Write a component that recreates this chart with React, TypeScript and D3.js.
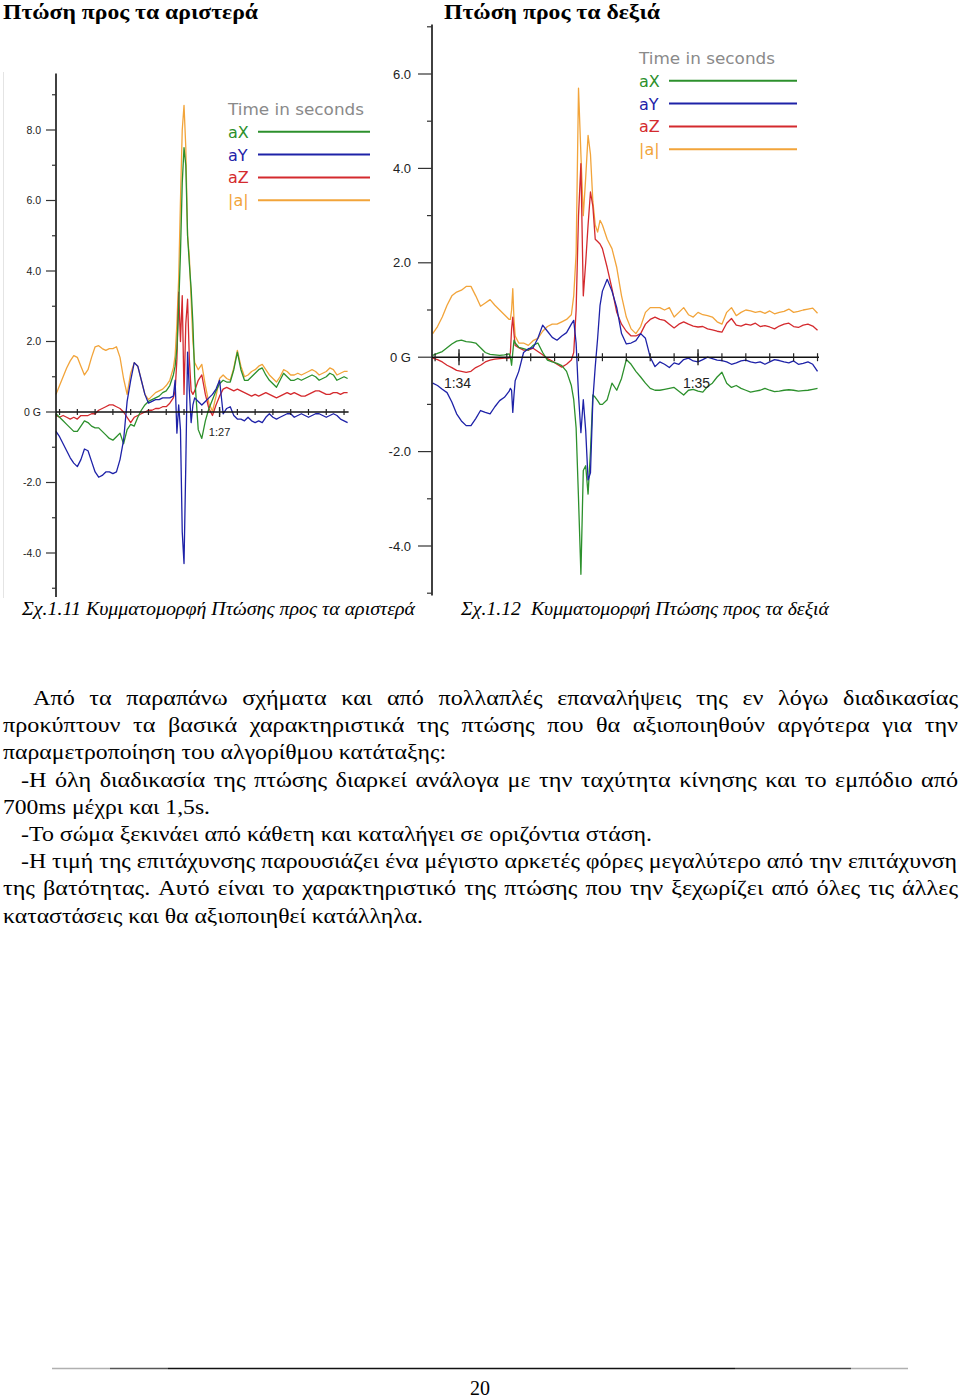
import React from 'react';
import * as d3 from 'd3';

// ---------------- DATA ----------------
// Left chart (fall to the left) – sample times in seconds (clock 1:26.08 … 1:27.72)
const leftTimes = [
  86.08, 86.10, 86.12, 86.14, 86.16, 86.18, 86.20, 86.22, 86.24, 86.26, 86.28, 86.30, 86.32, 86.34, 86.36, 86.38, 86.40,
  86.42, 86.44, 86.46, 86.48, 86.50, 86.52, 86.54, 86.56, 86.58, 86.60, 86.62, 86.64, 86.66, 86.68, 86.70, 86.72, 86.74,
  86.75, 86.76, 86.77, 86.78, 86.79, 86.80, 86.81, 86.82, 86.83, 86.84, 86.85, 86.86,
  86.88, 86.90, 86.92, 86.94, 86.96, 86.98, 87.00, 87.02, 87.04, 87.06, 87.08, 87.10, 87.12, 87.14, 87.16, 87.18, 87.20,
  87.22, 87.24, 87.26, 87.28, 87.30, 87.32, 87.34, 87.36, 87.38, 87.40, 87.42, 87.44, 87.46, 87.48, 87.50, 87.52, 87.54,
  87.56, 87.58, 87.60, 87.62, 87.64, 87.66, 87.68, 87.70, 87.72,
];
const leftAX = [
  -0.05, -0.15, -0.25, -0.35, -0.45, -0.55, -0.55, -0.4, -0.25, -0.3, -0.4, -0.45, -0.45, -0.55, -0.65, -0.75, -0.8,
  -0.7, -0.6, -0.9, -0.5, -0.35, -0.4, -0.15, 0.05, 0.2, 0.3, 0.35, 0.4, 0.45, 0.55, 0.6, 0.75, 1.05,
  1.3, 1.8, 3.0, 4.5, 6.5, 7.5, 7.0, 5.0, 4.2, 3.5, 2.5, 1.0,
  -0.5, -0.75, -0.25, 0.1, 0.35, 0.6, 0.8, 0.9, 0.85, 0.85, 1.2, 1.7, 1.2, 0.9, 0.9, 1.0, 1.1,
  1.2, 1.25, 1.05, 0.9, 0.8, 0.7, 0.9, 1.1, 1.0, 0.9, 0.9, 0.95, 0.9, 0.95, 1.0, 1.05, 1.0,
  0.9, 0.95, 1.0, 1.1, 1.05, 0.9, 0.95, 1.0, 0.95,
];
const leftAY = [
  -0.55, -0.7, -0.9, -1.1, -1.3, -1.45, -1.55, -1.35, -1.05, -1.1, -1.4, -1.7, -1.85, -1.8, -1.7, -1.7, -1.75,
  -1.7, -1.35, -0.8, 0.3, 0.9, 1.4, 1.3, 0.9, 0.5, 0.25, 0.3, 0.35, 0.35, 0.4, 0.4, 0.4, 0.45,
  0.9, -0.6, 0.2, -0.5, -3.4, -4.3, -1.5, 1.7, 0.6, -0.3, 0.2, 0.4,
  0.3, 0.2, 0.3, 0.4, 0.5, 0.65, 0.9, -0.05, 0.1, 0.15, -0.1, -0.2, -0.2, -0.25, -0.15, -0.25, -0.3,
  -0.25, -0.3, -0.15, -0.05, -0.15, -0.2, -0.15, -0.1, -0.05, -0.05, -0.15, -0.1, -0.05, -0.1, -0.15, -0.1, -0.05,
  -0.05, -0.1, -0.15, -0.1, -0.05, -0.1, -0.2, -0.25, -0.3,
];
const leftAZ = [
  -0.1, -0.15, -0.1, -0.15, -0.2, -0.15, -0.2, -0.1, -0.1, -0.1, -0.05, -0.05, 0.05, 0.1, 0.15, 0.2, 0.2,
  0.15, 0.1, 0.0, -0.15, -0.3, -0.15, -0.1, -0.05, 0.0, 0.05, 0.05, 0.1, 0.1, 0.15, 0.15, 0.25, 0.4,
  0.6, 1.5, 3.4, 2.0, 3.3, 0.5, 2.5, 3.2, 1.5, 0.6, 0.5, 0.6,
  0.9, 1.05, 0.5, 0.1, -0.1, 0.2, 0.45, 0.65, 0.7, 0.65, 0.6, 0.65, 0.6, 0.55, 0.5, 0.45, 0.5,
  0.45, 0.5, 0.55, 0.5, 0.45, 0.4, 0.45, 0.5, 0.55, 0.5, 0.55, 0.5, 0.45, 0.45, 0.5, 0.55, 0.6,
  0.6, 0.55, 0.5, 0.5, 0.55, 0.55, 0.5, 0.55, 0.55,
];
const leftAbs = [
  0.5, 0.75, 1.0, 1.25, 1.45, 1.6, 1.55, 1.3, 1.05, 1.2, 1.55, 1.85, 1.88, 1.8, 1.75, 1.8, 1.8,
  1.85, 1.55, 0.95, 0.5, 1.1, 1.4, 1.3, 0.9, 0.5, 0.35, 0.45, 0.55, 0.6, 0.65, 0.75, 0.9, 1.25,
  1.6, 2.5, 3.8, 6.0, 8.0, 8.7, 7.5, 5.0, 4.4, 3.2, 2.0, 1.4,
  1.2, 1.35, 0.75, 0.25, 0.02, 0.45, 0.95, 1.05, 0.95, 0.9, 1.25, 1.75, 1.3, 1.0, 1.05, 1.15, 1.2,
  1.3, 1.35, 1.2, 1.05, 0.95, 0.85, 1.0, 1.2, 1.15, 1.05, 1.05, 1.1, 1.05, 1.1, 1.15, 1.2, 1.15,
  1.05, 1.1, 1.15, 1.25, 1.2, 1.05, 1.1, 1.15, 1.15,
];

// Right chart (fall to the right) – sample times in seconds (clock 1:33.89 … 1:35.50)
const rightTimes = [
  93.89, 93.91, 93.93, 93.95, 93.97, 93.99, 94.01, 94.03, 94.05, 94.07, 94.09, 94.11, 94.13, 94.15, 94.17, 94.19, 94.21,
  94.215, 94.22, 94.225, 94.23, 94.235,
  94.25, 94.27, 94.29, 94.31, 94.33, 94.35, 94.37, 94.39, 94.41, 94.43, 94.45, 94.47,
  94.48, 94.49, 94.50, 94.51, 94.52, 94.53, 94.54, 94.55, 94.56, 94.57, 94.58, 94.59, 94.60,
  94.62, 94.64, 94.66, 94.68, 94.70, 94.72, 94.74, 94.76, 94.78, 94.80, 94.82, 94.84, 94.86, 94.88, 94.90, 94.92, 94.94,
  94.96, 94.98, 95.00, 95.02, 95.04, 95.06, 95.08, 95.10, 95.12, 95.14, 95.16, 95.18, 95.20, 95.22, 95.24, 95.26, 95.28,
  95.30, 95.32, 95.34, 95.36, 95.38, 95.40, 95.42, 95.44, 95.46, 95.48, 95.50,
];
const rightAX = [
  0.04, 0.08, 0.12, 0.2, 0.28, 0.34, 0.36, 0.33, 0.32, 0.3, 0.2, 0.1, 0.06, 0.05, 0.04, 0.05, 0.07,
  0.0, -0.17, 0.1, 0.36, 0.3,
  0.21, 0.18, 0.15, 0.25, 0.3, 0.1, -0.06, -0.1, -0.13, -0.18, -0.3, -0.6,
  -0.9, -1.5, -3.0, -4.6, -2.4, -2.3, -2.9, -2.0, -0.8, -0.85, -0.92, -1.0, -1.0,
  -0.9, -0.55, -0.7, -0.45, -0.05, -0.15, -0.3, -0.42, -0.55, -0.66, -0.7, -0.7, -0.68, -0.66, -0.64, -0.72, -0.8,
  -0.7, -0.68, -0.72, -0.74, -0.62, -0.55, -0.42, -0.32, -0.55, -0.64, -0.6, -0.66, -0.7, -0.74, -0.72, -0.7, -0.66,
  -0.7, -0.73, -0.72, -0.7, -0.69, -0.7, -0.72, -0.71, -0.7, -0.68, -0.66,
];
const rightAY = [
  -0.55, -0.6, -0.68, -0.75, -0.95, -1.2, -1.35, -1.45, -1.45, -1.3, -1.13, -1.17, -1.2, -1.05, -0.92, -0.85, -0.72,
  -0.66, -0.7, -1.17, -0.8, -0.5,
  -0.3, 0.1, 0.18, 0.2, 0.4, 0.68, 0.55, 0.42, 0.36, 0.45, 0.52, 0.7,
  0.78, 0.3, -0.8, -1.6, -0.9, -1.55, -2.6, -2.45, -0.9, -0.2, 0.4, 1.1, 1.4,
  1.65, 1.4, 1.05, 0.5, 0.28, 0.3, 0.35, 0.5, 0.4, 0.0, -0.2, -0.1, -0.15, -0.22, -0.12, -0.15, -0.05,
  -0.02, -0.08, -0.1, -0.05, 0.0, -0.03, -0.06, -0.07, -0.1, -0.15, -0.12, -0.08, -0.06, -0.1, -0.12, -0.1, -0.15,
  -0.1, -0.05, -0.07, -0.1, -0.12, -0.08, -0.15, -0.13, -0.1, -0.15, -0.3,
];
const rightAZ = [
  -0.02, -0.05, -0.1, -0.17, -0.22, -0.28, -0.3, -0.32, -0.3, -0.22, -0.17, -0.1, -0.06, -0.04, -0.03, -0.02, -0.02,
  0.1, 0.6, 0.85, 0.5, 0.25,
  0.2, 0.15, 0.15, 0.19, 0.12, 0.05, -0.03, -0.08, -0.15, -0.21, -0.15, -0.06,
  0.1, 1.0, 3.0, 4.1, 1.3, 2.0, 2.8, 3.5, 3.2, 2.5, 2.45, 2.4, 2.3,
  1.9, 1.45, 0.95, 0.7, 0.55, 0.45, 0.45, 0.5, 0.7, 0.8, 0.85, 0.8, 0.78, 0.7, 0.62, 0.7, 0.75,
  0.7, 0.66, 0.64, 0.65, 0.6, 0.58, 0.55, 0.53, 0.72, 0.82, 0.68, 0.66, 0.7, 0.68, 0.72, 0.65, 0.67,
  0.64, 0.6, 0.66, 0.7, 0.72, 0.65, 0.63, 0.68, 0.7, 0.66, 0.57,
];
const rightAbs = [
  0.5, 0.65, 0.85, 1.1, 1.3, 1.38, 1.42, 1.5, 1.5, 1.3, 1.08, 1.15, 1.22, 1.1, 1.0, 0.9, 0.8,
  0.8, 1.0, 1.45, 0.8, 0.45,
  0.3, 0.3, 0.25, 0.35, 0.4, 0.55, 0.65, 0.7, 0.7, 0.75, 0.8, 0.9,
  1.3, 2.2, 5.7, 4.3, 3.0, 3.8, 4.7, 4.3, 3.3, 2.8, 2.65, 2.9, 2.8,
  2.5, 2.3, 1.9, 1.3, 0.85, 0.6, 0.5, 0.65, 0.95, 1.05, 1.05, 1.05, 1.0, 1.05, 0.85, 0.95, 1.05,
  0.9, 0.85, 0.95, 0.9, 0.88, 0.85, 0.75, 0.7, 0.95, 1.05, 0.88, 0.95, 1.0, 0.98, 0.95, 0.97, 0.93,
  0.98, 0.92, 0.95, 0.97, 1.02, 0.95, 0.97, 1.0, 1.02, 1.04, 0.93,
];

const seriesNames = ['aX', 'aY', 'aZ', '|a|'];
const seriesColors = ['#2c902c', '#1e22a8', '#d42a2e', '#f2a43a'];
const legendTitle = 'Time in seconds';

const yTickValues = [-4, -2, 0, 2, 4, 6, 8];
const yTickLabels = ['-4.0', '-2.0', '0 G', '2.0', '4.0', '6.0', '8.0'];
const leftMajorTime = [87];
const leftMajorLabels = ['1:27'];
const rightMajorTime = [94, 95];
const rightMajorLabels = ['1:34', '1:35'];

const headings = ['Πτώση προς τα αριστερά', 'Πτώση προς τα δεξιά'];
const captions = ['Σχ.1.11 Κυμματομορφή Πτώσης προς τα αριστερά', 'Σχ.1.12  Κυμματομορφή Πτώσης προς τα δεξιά'];
const paragraphLines = [
  'Από τα παραπάνω σχήματα και από πολλαπλές επαναλήψεις της εν λόγω διαδικασίας',
  'προκύπτουν τα βασικά χαρακτηριστικά της πτώσης που θα αξιοποιηθούν αργότερα για την',
  'παραμετροποίηση του αλγορίθμου κατάταξης:',
  '-Η όλη διαδικασία της πτώσης διαρκεί ανάλογα με την ταχύτητα κίνησης και το εμπόδιο από',
  '700ms μέχρι και 1,5s.',
  '-Το σώμα ξεκινάει από κάθετη και καταλήγει σε οριζόντια στάση.',
  '-Η τιμή της επιτάχυνσης παρουσιάζει ένα μέγιστο αρκετές φόρες μεγαλύτερο από την επιτάχυνση',
  'της βατότητας. Αυτό είναι το χαρακτηριστικό της πτώσης που την ξεχωρίζει από όλες τις άλλες',
  'καταστάσεις και θα αξιοποιηθεί κατάλληλα.',
];
const pageNumber = '20';

// ---------------- LAYOUT ----------------
const paraLayout = [
  { x0: 33, x1: 958, justify: true },
  { x0: 3, x1: 958, justify: true },
  { x0: 3, x1: 446, justify: false },
  { x0: 21, x1: 958, justify: true },
  { x0: 3, x1: 210, justify: false },
  { x0: 21, x1: 652, justify: false },
  { x0: 21, x1: 957, justify: true },
  { x0: 3, x1: 958, justify: true },
  { x0: 3, x1: 423, justify: false },
];

const SERIF = '"Liberation Serif", "Times New Roman", serif';
const SANS = '"Liberation Sans", Arial, sans-serif';
const LEGEND_FONT = '"DejaVu Sans", Verdana, sans-serif';

let measureCtx: CanvasRenderingContext2D | null = null;
function measure(text: string, font: string): number {
  if (!measureCtx) measureCtx = document.createElement('canvas').getContext('2d');
  if (!measureCtx) return text.length * 9;
  measureCtx.font = font;
  return measureCtx.measureText(text).width;
}

type ChartCfg = {
  times: number[];
  values: number[][];
  xDomain: [number, number];
  xRange: [number, number];
  yRange: [number, number];
  axisExtent: [number, number];
  minorY: number[];
  yTickMax: number;
  majorT: number[];
  majorLabels: string[];
  minorT: number[];
  tickLen: number;
  majorTickLen: number;
  yTickX0: number;
  yLabelX: number;
  yLabelSize: number;
  minorYLen: number;
  xLabelSize: number;
  xLabelDy: number;
  xLabelDx: number;
  legendX: number;
  legendY: number;
  legendLineX: [number, number];
  legendStep: number;
};

function Chart({ cfg }: { cfg: ChartCfg }) {
  const x = d3.scaleLinear().domain(cfg.xDomain).range(cfg.xRange);
  const y = d3.scaleLinear().domain([-4, 8]).range(cfg.yRange);
  const axisX = cfg.xRange[0];
  const y0 = y(0);
  const drawOrder = [3, 2, 0, 1];
  return (
    <g>
      {drawOrder.map((si) => {
        const line = d3
          .line<number>()
          .x((_, i) => x(cfg.times[i]))
          .y((d) => y(d));
        return (
          <path
            key={si}
            d={line(cfg.values[si]) || ''}
            fill="none"
            stroke={seriesColors[si]}
            strokeWidth={1.3}
            strokeLinejoin="round"
          />
        );
      })}
      <line x1={axisX} x2={axisX} y1={y(cfg.axisExtent[0])} y2={y(cfg.axisExtent[1])} stroke="#111" strokeWidth={1.6} />
      {yTickValues
        .filter((v) => v <= cfg.yTickMax)
        .map((v) => (
          <g key={v}>
            <line x1={cfg.yTickX0} x2={axisX} y1={y(v)} y2={y(v)} stroke="#333" strokeWidth={1.2} />
            <text
              x={cfg.yLabelX}
              y={y(v)}
              dy="0.35em"
              textAnchor="end"
              fontFamily={SANS}
              fontSize={cfg.yLabelSize}
              fill="#222"
            >
              {yTickLabels[yTickValues.indexOf(v)]}
            </text>
          </g>
        ))}
      {cfg.minorY.map((v) => (
        <line key={'m' + v} x1={axisX - cfg.minorYLen} x2={axisX} y1={y(v)} y2={y(v)} stroke="#333" strokeWidth={1.2} />
      ))}
      <line x1={cfg.xRange[0]} x2={cfg.xRange[1] + 1} y1={y0} y2={y0} stroke="#111" strokeWidth={1.5} />
      {cfg.minorT.map((t) => (
        <line key={'t' + t} x1={x(t)} x2={x(t)} y1={y0 - cfg.tickLen} y2={y0 + cfg.tickLen} stroke="#222" strokeWidth={1.2} />
      ))}
      {cfg.majorT.map((t, i) => (
        <g key={'M' + t}>
          <line x1={x(t)} x2={x(t)} y1={y0 - cfg.majorTickLen} y2={y0 + cfg.majorTickLen} stroke="#222" strokeWidth={1.4} />
          <text
            x={x(t) + cfg.xLabelDx}
            y={y0 + cfg.xLabelDy}
            textAnchor="middle"
            fontFamily={SANS}
            fontSize={cfg.xLabelSize}
            fill="#222"
          >
            {cfg.majorLabels[i]}
          </text>
        </g>
      ))}
      <text
        x={cfg.legendX}
        y={cfg.legendY + 6}
        fontFamily={LEGEND_FONT}
        fontSize={15.5}
        fill="#8a8a8a"
        textLength={136}
        lengthAdjust="spacingAndGlyphs"
      >
        {legendTitle}
      </text>
      {seriesNames.map((n, i) => {
        const ly = cfg.legendY + cfg.legendStep * (i + 1);
        return (
          <g key={n}>
            <text x={cfg.legendX} y={ly + 6} fontFamily={LEGEND_FONT} fontSize={16} fill={seriesColors[i]}>
              {n}
            </text>
            <line x1={cfg.legendLineX[0]} x2={cfg.legendLineX[1]} y1={ly} y2={ly} stroke={seriesColors[i]} strokeWidth={2} />
          </g>
        );
      })}
    </g>
  );
}

const leftCfg: ChartCfg = {
  times: leftTimes,
  values: [leftAX, leftAY, leftAZ, leftAbs],
  xDomain: [86.08, 87.72],
  xRange: [56, 347.6],
  yRange: [553, 130],
  axisExtent: [-5.25, 9.6],
  minorY: [-5, -3, -1, 1, 3, 5, 7, 9],
  yTickMax: 8,
  majorT: leftMajorTime,
  majorLabels: leftMajorLabels,
  minorT: d3.range(861, 878).map((d) => d / 10),
  tickLen: 3,
  majorTickLen: 5,
  yTickX0: 46,
  yLabelX: 41,
  yLabelSize: 10.5,
  minorYLen: 4,
  xLabelSize: 11,
  xLabelDy: 24,
  xLabelDx: 0,
  legendX: 228,
  legendY: 109,
  legendLineX: [258, 370],
  legendStep: 22.8,
};

const rightCfg: ChartCfg = {
  times: rightTimes,
  values: [rightAX, rightAY, rightAZ, rightAbs],
  xDomain: [93.887, 95.502],
  xRange: [432, 818],
  yRange: [546, 74 - 94.4],
  axisExtent: [-5.05, 7.05],
  minorY: [-5, -3, -1, 1, 3, 5, 7],
  yTickMax: 6,
  majorT: rightMajorTime,
  majorLabels: rightMajorLabels,
  minorT: d3.range(939, 956).map((d) => d / 10),
  tickLen: 4,
  majorTickLen: 8,
  yTickX0: 418,
  yLabelX: 411,
  yLabelSize: 13,
  minorYLen: 5,
  xLabelSize: 14,
  xLabelDy: 31,
  xLabelDx: -1.5,
  legendX: 639,
  legendY: 58,
  legendLineX: [669, 797],
  legendStep: 22.8,
};

const PARA_FONT_SIZE = 20.5;
const PARA_STRETCH = 1.18;
const PARA_MIN_GAP = 6;

function Paragraph() {
  const font = `${PARA_FONT_SIZE}px "Liberation Serif"`;
  return (
    <g fontFamily={SERIF} fontSize={PARA_FONT_SIZE} fill="#000">
      {paragraphLines.map((text, li) => {
        const lay = paraLayout[li];
        const baseY = 705 + li * 27.2;
        if (!lay.justify) {
          return (
            <text key={li} x={lay.x0} y={baseY} textLength={lay.x1 - lay.x0} lengthAdjust="spacingAndGlyphs">
              {text}
            </text>
          );
        }
        const words = text.split(' ');
        const raw = words.map((w) => measure(w, font));
        const rawTotal = raw.reduce((a, b) => a + b, 0);
        const avail = lay.x1 - lay.x0;
        const stretch = Math.min(PARA_STRETCH, (avail - PARA_MIN_GAP * (words.length - 1)) / rawTotal);
        const widths = raw.map((w) => w * stretch);
        const total = widths.reduce((a, b) => a + b, 0);
        const gap = (avail - total) / (words.length - 1);
        let cx = lay.x0;
        return (
          <g key={li}>
            {words.map((w, wi) => {
              const el = (
                <text key={wi} x={cx} y={baseY} textLength={widths[wi]} lengthAdjust="spacingAndGlyphs">
                  {w}
                </text>
              );
              cx += widths[wi] + gap;
              return el;
            })}
          </g>
        );
      })}
    </g>
  );
}

export default function App() {
  const ruleSegs = [
    { a: 52, b: 110, c: '#b0b0b0' },
    { a: 110, b: 168, c: '#555' },
    { a: 168, b: 735, c: '#111' },
    { a: 735, b: 851, c: '#444' },
    { a: 851, b: 908, c: '#b0b0b0' },
  ];
  return (
    <svg
      width={960}
      height={1398}
      viewBox="0 0 960 1398"
      style={{ position: 'absolute', left: 0, top: 0, background: '#fff' }}
    >
      <rect x={0} y={0} width={960} height={1398} fill="#fff" />
      <text x={3} y={19} fontFamily={SERIF} fontWeight="bold" fontSize={20} textLength={255} lengthAdjust="spacingAndGlyphs">
        {headings[0]}
      </text>
      <text x={444} y={19} fontFamily={SERIF} fontWeight="bold" fontSize={20} textLength={216} lengthAdjust="spacingAndGlyphs">
        {headings[1]}
      </text>

      <line x1={3.5} x2={3.5} y1={72} y2={598} stroke="#e4e4e4" strokeWidth={1} />

      <Chart cfg={leftCfg} />
      <Chart cfg={rightCfg} />

      <text
        x={22}
        y={615}
        fontFamily={SERIF}
        fontStyle="italic"
        fontSize={18}
        textLength={393}
        lengthAdjust="spacingAndGlyphs"
      >
        {captions[0]}
      </text>
      <text
        x={461}
        y={615}
        fontFamily={SERIF}
        fontStyle="italic"
        fontSize={18}
        textLength={368}
        lengthAdjust="spacingAndGlyphs"
        style={{ whiteSpace: 'pre' }}
      >
        {captions[1]}
      </text>

      <Paragraph />

      {ruleSegs.map((s, i) => (
        <line key={i} x1={s.a} x2={s.b} y1={1368.5} y2={1368.5} stroke={s.c} strokeWidth={1.6} />
      ))}
      <text x={480} y={1395} textAnchor="middle" fontFamily={SERIF} fontSize={20}>
        {pageNumber}
      </text>
    </svg>
  );
}
